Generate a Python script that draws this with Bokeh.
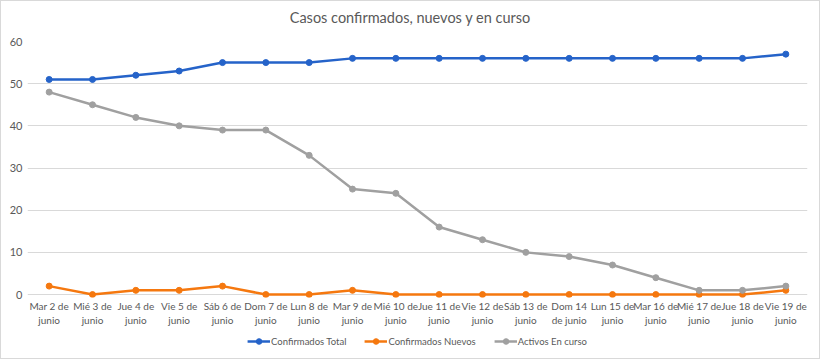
from bokeh.plotting import figure
from bokeh.models import Legend, LegendItem, FixedTicker, Range1d, Div
from bokeh.layouts import column
from bokeh.embed import file_html
from bokeh.resources import INLINE

title_text = "Casos confirmados, nuevos y en curso"
categories = ["Mar 2 de\njunio", "Mié 3 de\njunio", "Jue 4 de\njunio", "Vie 5 de\njunio",
              "Sáb 6 de\njunio", "Dom 7 de\njunio", "Lun 8 de\njunio", "Mar 9 de\njunio",
              "Mié 10 de\njunio", "Jue 11 de\njunio", "Vie 12 de\njunio", "Sáb 13 de\njunio",
              "Dom 14\nde junio", "Lun 15 de\njunio", "Mar 16 de\njunio", "Mié 17 de\njunio",
              "Jue 18 de\njunio", "Vie 19 de\njunio"]
confirmados_total = [51, 51, 52, 53, 55, 55, 55, 56, 56, 56, 56, 56, 56, 56, 56, 56, 56, 57]
confirmados_nuevos = [2, 0, 1, 1, 2, 0, 0, 1, 0, 0, 0, 0, 0, 0, 0, 0, 0, 1]
activos_en_curso = [48, 45, 42, 40, 39, 39, 33, 25, 24, 16, 13, 10, 9, 7, 4, 1, 1, 2]
y_ticks = [0, 10, 20, 30, 40, 50, 60]
series_names = ["Confirmados Total", "Confirmados Nuevos", "Activos En curso"]

FONT = "Lato"
TXT = "#595959"
COLORS = ["#2563c9", "#f5780f", "#a0a0a0"]

title_div = Div(text=title_text, width=818, height=34, margin=0,
                styles={"font-family": FONT, "font-size": "14.5px", "color": TXT,
                        "text-align": "center", "line-height": "34px", "width": "818px"})

p = figure(width=818, height=295, x_range=categories, y_range=Range1d(-0.7, 60),
           output_backend="svg", toolbar_location=None,
           min_border_left=26, min_border_right=12, min_border_top=6, min_border_bottom=33)

p.outline_line_color = None
p.background_fill_color = "white"
p.border_fill_color = "white"

p.xgrid.grid_line_color = None
p.ygrid.grid_line_color = "#d9d9d9"
p.ygrid.grid_line_width = 1

p.yaxis.ticker = FixedTicker(ticks=y_ticks)
p.yaxis.axis_line_color = None
p.yaxis.major_tick_line_color = None
p.yaxis.minor_tick_line_color = None
p.yaxis.major_tick_out = 0
p.yaxis.major_tick_in = 0
p.yaxis.major_label_text_font = FONT
p.yaxis.major_label_text_font_size = "11px"
p.yaxis.major_label_text_color = TXT
p.yaxis.major_label_standoff = 5

p.xaxis.axis_line_color = None
p.xaxis.major_tick_line_color = None
p.xaxis.minor_tick_line_color = None
p.xaxis.major_tick_out = 0
p.xaxis.major_tick_in = 0
p.xaxis.major_label_text_font = FONT
p.xaxis.major_label_text_font_size = "10px"
p.xaxis.major_label_text_color = TXT
p.xaxis.major_label_standoff = 2
p.xaxis.major_label_orientation = "horizontal"

all_vals = [confirmados_total, confirmados_nuevos, activos_en_curso]
for vals, color in zip(all_vals, COLORS):
    p.line(categories, vals, line_color=color, line_width=2.5)
    p.scatter(categories, vals, size=6, fill_color=color, line_color=color)

# legend strip (its dummy glyphs lie outside the visible range)
lf = figure(width=818, height=28, output_backend="svg", toolbar_location=None,
            min_border=0, x_range=Range1d(0, 1), y_range=Range1d(0, 1))
lf.axis.visible = False
lf.grid.visible = False
lf.outline_line_color = None
items = []
for name, color in zip(series_names, COLORS):
    ln = lf.line([5, 6], [5, 5], line_color=color, line_width=2.5)
    sc = lf.scatter([5], [5], size=6, fill_color=color, line_color=color)
    items.append(LegendItem(label=name, renderers=[ln, sc]))
legend = Legend(items=items, orientation="horizontal", location="top",
                label_text_font=FONT, label_text_font_size="9.5px", label_text_color=TXT,
                glyph_width=23, glyph_height=14, label_standoff=1, spacing=18, padding=0,
                margin=4, label_height=14,
                border_line_color=None, background_fill_alpha=0)
lf.add_layout(legend, "center")

layout = column(title_div, p, lf, spacing=0)
layout.styles = {"border": "1px solid #d9d9d9"}

open("out.html", "w").write(file_html(layout, INLINE))
